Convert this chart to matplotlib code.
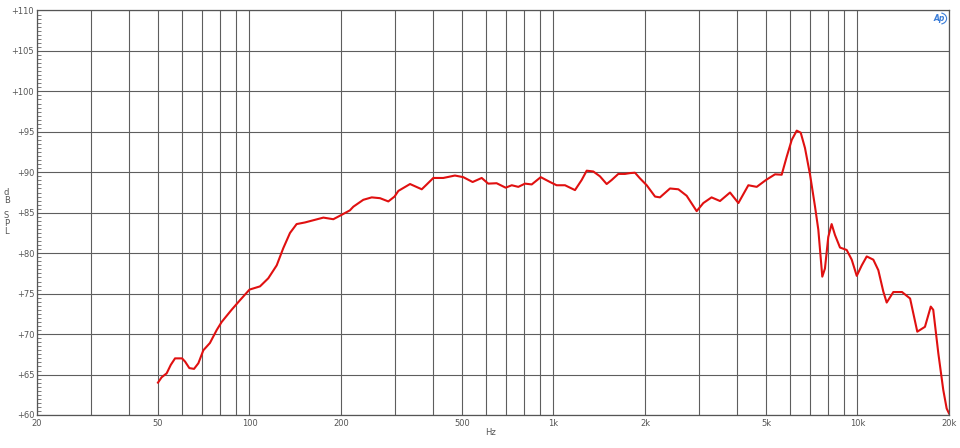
import matplotlib
matplotlib.use("Agg")
import matplotlib.pyplot as plt
from matplotlib.ticker import FixedLocator, MultipleLocator, NullFormatter
from matplotlib.patches import Arc

# ---- data ----
freq_hz = [50, 51.4, 53.4, 55.1, 56.9, 60, 61.4, 63.4, 65.7, 67.9, 70.5, 74.1, 78.0, 81.0,
           87.3, 93.1, 100, 108.3, 115.3, 122.9, 129.1, 135.9, 142.9, 152.2, 175, 188.7,
           200, 214, 219.6, 236.8, 252.4, 268.8, 286.2, 300, 308.8, 337.4, 368.7, 382.9,
           402.4, 434, 474, 505, 542, 580.6, 610, 650, 696, 729, 766, 806, 848, 908, 974,
           1024, 1091, 1177, 1238, 1286, 1352, 1422, 1496, 1554, 1634, 1718, 1785, 1854,
           1925, 2026, 2158, 2240, 2417, 2575, 2742, 2958, 3111, 3311, 3530, 3808, 4057,
           4375, 4662, 5000, 5354, 5632, 5848, 6077, 6311, 6505, 6719, 6982, 7250, 7433,
           7660, 7815, 8015, 8222, 8433, 8760, 9214, 9573, 9944, 10330, 10725, 11274,
           11710, 12162, 12476, 13118, 14013, 14895, 15730, 16670, 17420, 17750, 18450,
           19150, 19650, 20000]
spl_db = [64.0, 64.66, 65.15, 66.2, 67.0, 67.0, 66.6, 65.8, 65.7, 66.4, 68.0, 68.9, 70.5, 71.5,
          73.0, 74.2, 75.5, 75.9, 76.9, 78.5, 80.6, 82.5, 83.6, 83.8, 84.4, 84.2,
          84.7, 85.3, 85.75, 86.6, 86.9, 86.8, 86.4, 87.0, 87.7, 88.55, 87.9, 88.5,
          89.3, 89.3, 89.6, 89.4, 88.8, 89.3, 88.6, 88.65, 88.1, 88.4, 88.2, 88.6, 88.5, 89.4, 88.8,
          88.4, 88.4, 87.8, 89.05, 90.2, 90.1, 89.5, 88.55, 89.05, 89.8, 89.8, 89.9, 89.95,
          89.25, 88.4, 87.0, 86.9, 88.0, 87.9, 87.1, 85.2, 86.2, 86.9, 86.45, 87.5, 86.2,
          88.4, 88.2, 89.05, 89.75, 89.7, 91.9, 94.0, 95.15, 94.9, 93.0, 89.7, 85.75, 82.9,
          77.1, 78.1, 82.0, 83.6, 82.25, 80.7, 80.4, 79.2, 77.2, 78.5, 79.6, 79.2,
          77.9, 75.25, 73.9, 75.2, 75.2, 74.4, 70.3, 70.9, 73.4, 73.0, 67.6,
          63.1, 60.8, 60.2]

x_grid = [20, 30, 40, 50, 60, 70, 80, 90, 100, 200, 300, 400, 500, 600, 700, 800, 900,
          1000, 2000, 3000, 4000, 5000, 6000, 7000, 8000, 9000, 10000, 20000]
x_labels = {20: "20", 50: "50", 100: "100", 200: "200", 500: "500", 1000: "1k",
            2000: "2k", 5000: "5k", 10000: "10k", 20000: "20k"}
y_ticks = [60, 65, 70, 75, 80, 85, 90, 95, 100, 105, 110]
y_labels = ["+%d" % v for v in y_ticks]

fig = plt.figure(figsize=(9.6, 4.48), dpi=100)
fig.patch.set_facecolor("white")
ax = fig.add_axes([37 / 960, 33 / 448, 912 / 960, 404.5 / 448])
ax.set_xscale("log")
ax.set_xlim(20, 20000)
ax.set_ylim(60, 110)

ax.xaxis.set_major_locator(FixedLocator(x_grid))
ax.set_xticklabels([x_labels.get(v, "") for v in x_grid])
ax.xaxis.set_minor_locator(FixedLocator([]))
ax.xaxis.set_minor_formatter(NullFormatter())
ax.set_yticks(y_ticks)
ax.set_yticklabels(y_labels)
ax.yaxis.set_minor_locator(MultipleLocator(0.5))

ax.tick_params(axis="x", which="major", length=0, pad=3, labelsize=6, labelcolor="#555555")
ax.tick_params(axis="y", which="major", length=0, pad=2, labelsize=6, labelcolor="#555555")
ax.tick_params(axis="y", which="minor", direction="in", length=3, width=0.6, color="#666666")

ax.grid(True, which="major", color="#5e5e5e", linewidth=0.8)
for s in ax.spines.values():
    s.set_color("#555555")
    s.set_linewidth(0.9)

ax.plot(freq_hz, spl_db, color="#e01010", linewidth=1.5, solid_joinstyle="round")

# axis titles
for ch, yy in zip(["d", "B", "S", "P", "L"], [192.7, 200.7, 215.7, 223.3, 231.0]):
    fig.text(4 / 960, 1 - yy / 448, ch, fontsize=6, color="#555555", ha="left", va="center")
fig.text(491 / 960, 1 - 432 / 448, "Hz", fontsize=6, color="#555555", ha="center", va="center")

# AP logo
fig.text(939.5 / 960, 1 - 18.5 / 448, "Ap", fontsize=5.5, color="#3b7dd8", style="italic",
         fontweight="bold", ha="center", va="center")
logo_ax = fig.add_axes([934 / 960, 1 - 25 / 448, 14 / 960, 13 / 448])
logo_ax.set_xlim(0, 1)
logo_ax.set_ylim(0, 1)
logo_ax.axis("off")
logo_ax.add_patch(Arc((0.45, 0.5), 0.9, 0.85, theta1=-80, theta2=80, color="#3b7dd8", lw=0.8))

fig.savefig("out.png", dpi=100, facecolor="white")
